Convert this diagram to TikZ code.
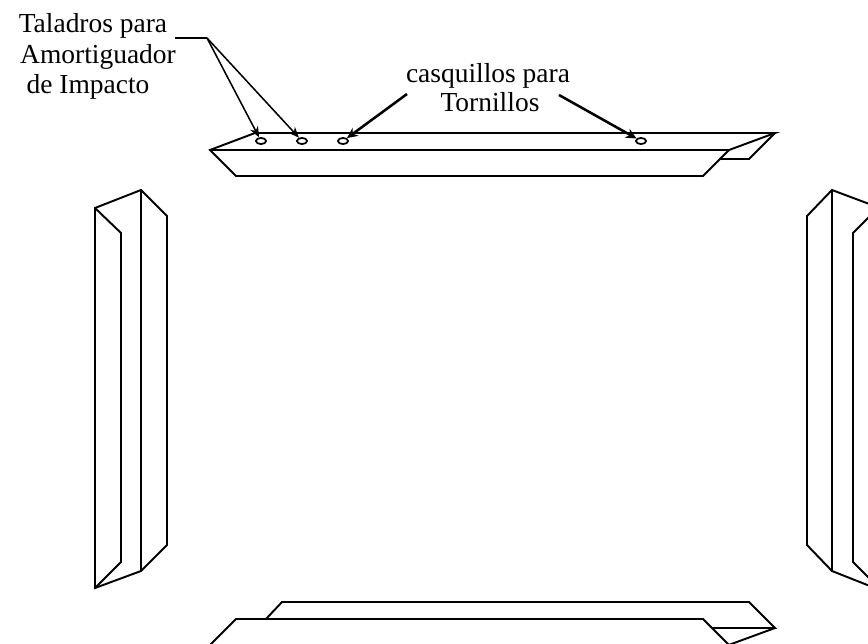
\documentclass[tikz,border=0pt]{standalone}
\usepackage{fontspec}
\setmainfont{Liberation Serif}
\usetikzlibrary{arrows.meta,shapes.geometric}
\tikzset{
  x=0.75pt,y=-0.75pt,
  part/.style={line width=1.45pt,line join=miter,line cap=round},
  hole/.style={draw,ellipse,line width=1.3pt,inner sep=0,minimum width=7.6pt,minimum height=4.6pt},
  lead/.style={line width=1.15pt,-{Stealth[length=8pt,width=6.5pt]}},
  leadb/.style={line width=1.9pt,-{Stealth[length=8pt,width=7.5pt]}},
  lbl/.style={font=\fontsize{20.6pt}{24pt}\selectfont,inner sep=0,anchor=base}
}
\begin{document}
\begin{tikzpicture}
\useasboundingbox (0,0) rectangle (868,643);
\clip (0,0) rectangle (868,643);
% top
\draw[part] (255,133) -- (775,133) -- (729,150) -- (703,176) -- (236,176) -- (210,150) -- cycle;
\draw[part] (210,150) -- (729,150);
\draw[part] (775,133) -- (749,159) -- (720,159);
% left
\draw[part] (95,208) -- (141,190) -- (167,216) -- (167,545) -- (141,571) -- (95,588) -- cycle;
\draw[part] (141,190) -- (141,571);
\draw[part] (95,208) -- (121,233) -- (121,562) -- (95,588);
% right
\draw[part] (880,208) -- (832,190) -- (807,216) -- (807,545) -- (832,571) -- (880,590);
\draw[part] (832,190) -- (832,571);
\draw[part] (880,206) -- (853,233) -- (853,562) -- (880,589);
% bottom
\draw[part] (205,650) -- (236,619) -- (703,619) -- (734,650);
\draw[part] (266,619) -- (282,602) -- (749,602) -- (775,628) -- (712,628);
\draw[part] (775,628) -- (715,650);
% holes
\node[hole] (h1) at (261,141) {};
\node[hole] (h2) at (302,141) {};
\node[hole] (h3) at (343,141) {};
\node[hole] (h4) at (641,141) {};
% labels
\node[lbl] (t1) at (93,32) {Taladros para};
\node[lbl] (t2) at (98,63) {Amortiguador};
\node[lbl] (t3) at (88,93) {de Impacto};
\node[lbl] (t4) at (488,82) {casquillos para};
\node[lbl] (t5) at (490,111) {Tornillos};
% leaders
\coordinate (j) at (207,38);
\coordinate (s) at (175,38);
\coordinate (a3) at (407,94);
\coordinate (a4) at (559,95);
\draw[line width=1.3pt] (s) -- (j);
\draw[lead] (j) -- (h1);
\draw[lead] (j) -- (h2);
\draw[leadb] (a3) -- (h3);
\draw[leadb] (a4) -- (h4);
\end{tikzpicture}
\end{document}
